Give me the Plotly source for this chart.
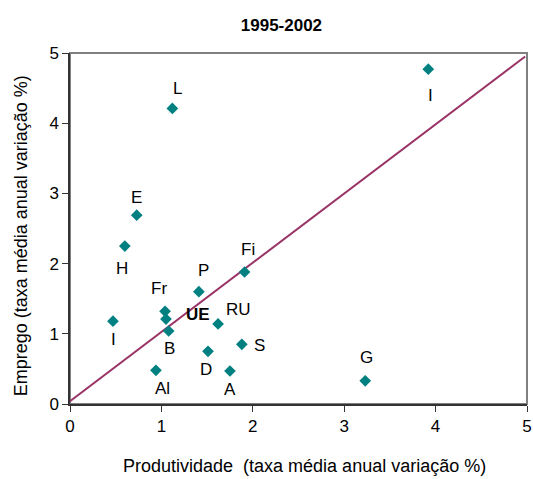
import plotly.graph_objects as go

labels = ["L", "I", "E", "H", "Fi", "P", "Fr", "UE", "B", "I", "RU", "S", "D", "Al", "A", "G"]
produtividade = [1.12, 3.92, 0.73, 0.60, 1.91, 1.41, 1.04, 1.05, 1.08, 0.47, 1.62, 1.88, 1.51, 0.94, 1.75, 3.23]
emprego = [4.21, 4.77, 2.69, 2.25, 1.88, 1.60, 1.32, 1.21, 1.04, 1.18, 1.14, 0.85, 0.75, 0.48, 0.47, 0.33]
bold = [False, False, False, False, False, False, False, True, False, False, False, False, False, False, False, False]
# label offsets in pixels (dx, dy; dy positive = up)
label_offsets = [(5, 20), (2, -26), (0, 18), (-3, -22), (3, 23), (5, 21), (-6, 23), (32, 5), (1, -18), (1, -18), (20, 14), (18, -1), (-2, -18), (7, -18), (0, -18), (1, 23)]

trend_x = [0.0, 4.98]
trend_y = [0.04, 4.95]

x_ticks = [0, 1, 2, 3, 4, 5]
y_ticks = [0, 1, 2, 3, 4, 5]

font_family = "Liberation Sans, Arial, sans-serif"

fig = go.Figure()
fig.add_trace(go.Scatter(x=trend_x, y=trend_y, mode="lines",
                         line=dict(color="#993366", width=2), hoverinfo="skip", showlegend=False))
fig.add_trace(go.Scatter(x=produtividade, y=emprego, mode="markers",
                         marker=dict(symbol="diamond", color="#008080", size=9, line=dict(width=0)),
                         showlegend=False))

for lab, x, y, b, (dx, dy) in zip(labels, produtividade, emprego, bold, label_offsets):
    fig.add_annotation(x=x, y=y, text=f"<b>{lab}</b>" if b else lab, showarrow=False,
                       xshift=dx, yshift=dy,
                       font=dict(family=font_family, size=17, color="black"))

fig.add_shape(type="rect", xref="paper", yref="paper", x0=0, y0=0, x1=1, y1=1,
              line=dict(color="#808080", width=2), layer="below")

# axis titles
fig.add_annotation(xref="paper", yref="paper", x=0.513, y=-0.178, xanchor="center", yanchor="middle",
                   text="Produtividade\u00a0 (taxa média anual variação %)", showarrow=False,
                   font=dict(family=font_family, size=18, color="black"))
fig.add_annotation(xref="paper", yref="paper", x=-0.107, y=0.478, xanchor="center", yanchor="middle",
                   text="Emprego (taxa média anual variação %)", showarrow=False, textangle=-90,
                   font=dict(family=font_family, size=18, color="black"))

fig.update_layout(
    width=533, height=479,
    margin=dict(l=70, r=6, t=53, b=75),
    paper_bgcolor="white", plot_bgcolor="white",
    font=dict(family=font_family, size=17, color="black"),
    title=dict(text="<b>1995-2002</b>", x=0.528, xanchor="center", y=0.948, yanchor="middle",
               font=dict(size=17, family=font_family)),
    xaxis=dict(range=[0, 5], tickvals=x_ticks, showgrid=False, zeroline=False,
               showline=True, linecolor="#333333", linewidth=1.5, automargin=False,
               ticks="outside", ticklen=6, tickcolor="#333333", ticklabeloverflow="allow"),
    yaxis=dict(range=[0, 5], tickvals=y_ticks, showgrid=False, zeroline=False,
               showline=True, linecolor="#333333", linewidth=1.5, automargin=False,
               ticks="outside", ticklen=6, tickcolor="#333333", ticklabeloverflow="allow"),
)

fig.write_html("out.html", config={"displayModeBar": False},
               post_script="document.body.style.margin='0';document.body.style.overflow='hidden';")
